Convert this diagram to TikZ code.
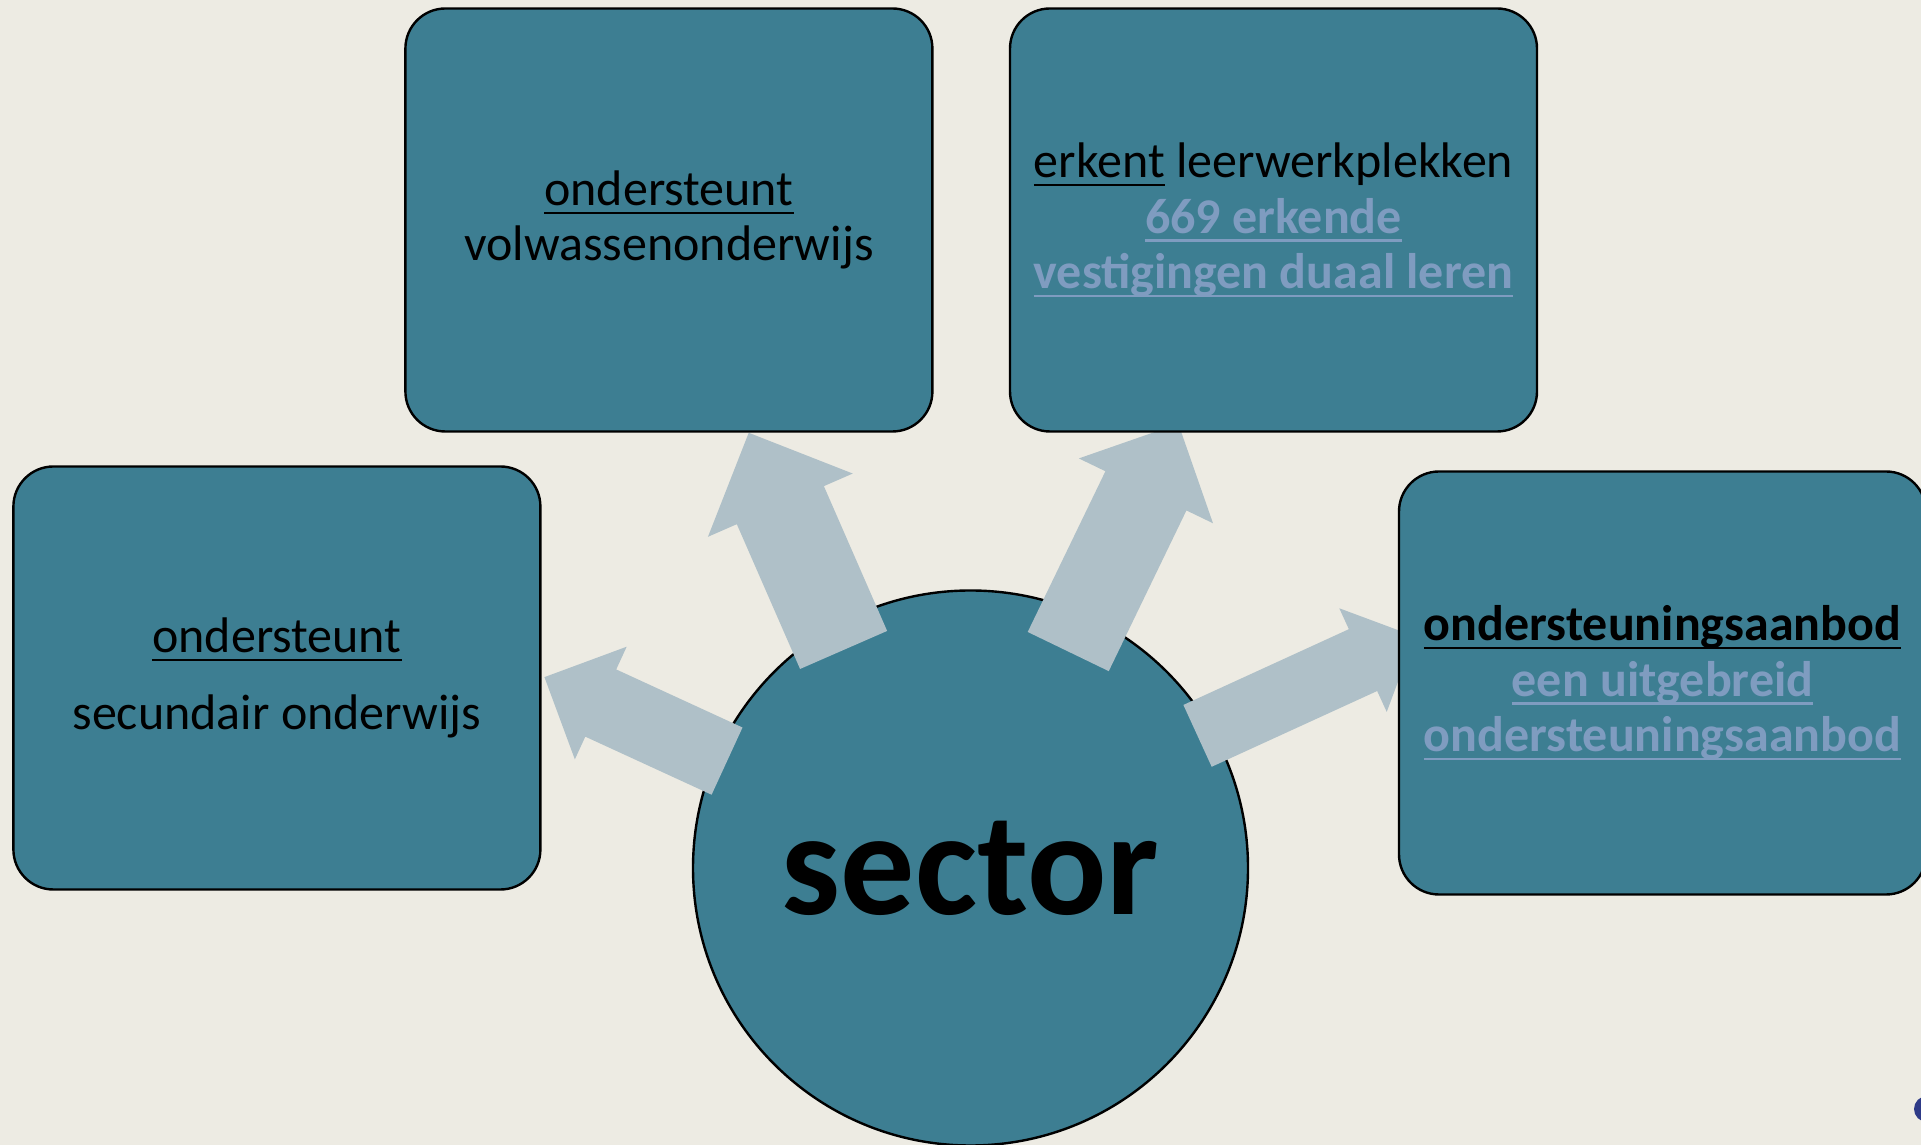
\documentclass[tikz,border=0pt]{standalone}
\usepackage{fontspec}
\setmainfont{Carlito}
\usetikzlibrary{calc}

\definecolor{pagebg}{RGB}{237,235,227}
\definecolor{boxteal}{RGB}{61,126,146}
\definecolor{arrowgrey}{RGB}{175,192,200}
\definecolor{linkblue}{RGB}{127,156,192}
\definecolor{dotblue}{RGB}{46,58,135}

\tikzset{
  panel/.style={draw=black, line width=2.4pt, fill=boxteal, rounded corners=40pt,
    minimum width=527pt, minimum height=423pt, align=center,
    font=\fontsize{50}{55.5}\selectfont},
  hub/.style={circle, draw=black, line width=2.4pt, fill=boxteal, minimum size=555pt,
    font=\fontsize{148}{160}\selectfont\bfseries},
  spoke/.style={fill=arrowgrey},
}

% underline at a fixed depth
\newcommand{\undl}[1]{\setbox0\hbox{#1}\rlap{\rule[-8.6pt]{\wd0}{2.4pt}}\box0{}}
\newcommand{\linktext}[1]{{\color{linkblue}\bfseries\undl{#1}}}

% spoke from a node: node, tail angle, tail distance, direction, length, shaft, head
\newcommand{\spokearrow}[7]{%
  \begin{scope}[shift={($(#1.center)+(#2:#3)$)}, rotate=#4]
    \fill[spoke] (0,-#6/2) -- (#5-#7/2,-#6/2) -- (#5-#7/2,-#7/2) -- (#5,0)
      -- (#5-#7/2,#7/2) -- (#5-#7/2,#6/2) -- (0,#6/2) -- cycle;
  \end{scope}}

\begin{document}
\begin{tikzpicture}[x=1pt,y=1pt]
	\useasboundingbox (0,0) rectangle (1921,1145);
	\fill[pagebg] (0,0) rectangle (1921,1145);

	\node[hub] (sector) at (970.5,277) {sector};

	% arrows out of the hub
	\spokearrow{sector}{156.3}{265.9}{155.3}{201}{74}{124}
	\spokearrow{sector}{120.2}{252.3}{113.6}{237}{95}{158}
	\spokearrow{sector}{65.7}{237.5}{64.2}{253}{90}{149}
	\spokearrow{sector}{30.2}{262.7}{24.6}{239}{68}{114}

	% the four boxes
	\node[panel, font=\fontsize{50}{76.7}\selectfont] (secundair) at (276.9,467)
		{\undl{ondersteunt}\\secundair onderwijs};
	\node[panel] (volwassen) at (668.9,925)
		{\undl{ondersteunt}\\volwassenonderwijs};
	\node[panel] (erkent) at (1273.5,925)
		{\undl{erkent} leerwerkplekken\\\linktext{669 erkende}\\\linktext{vestigingen duaal leren}};
	\node[panel] (aanbod) at (1662.5,462)
		{\textbf{\undl{ondersteuningsaanbod}}\\\linktext{een uitgebreid}\\\linktext{ondersteuningsaanbod}};

	\fill[dotblue] (1927,36) circle (13);
\end{tikzpicture}
\end{document}
